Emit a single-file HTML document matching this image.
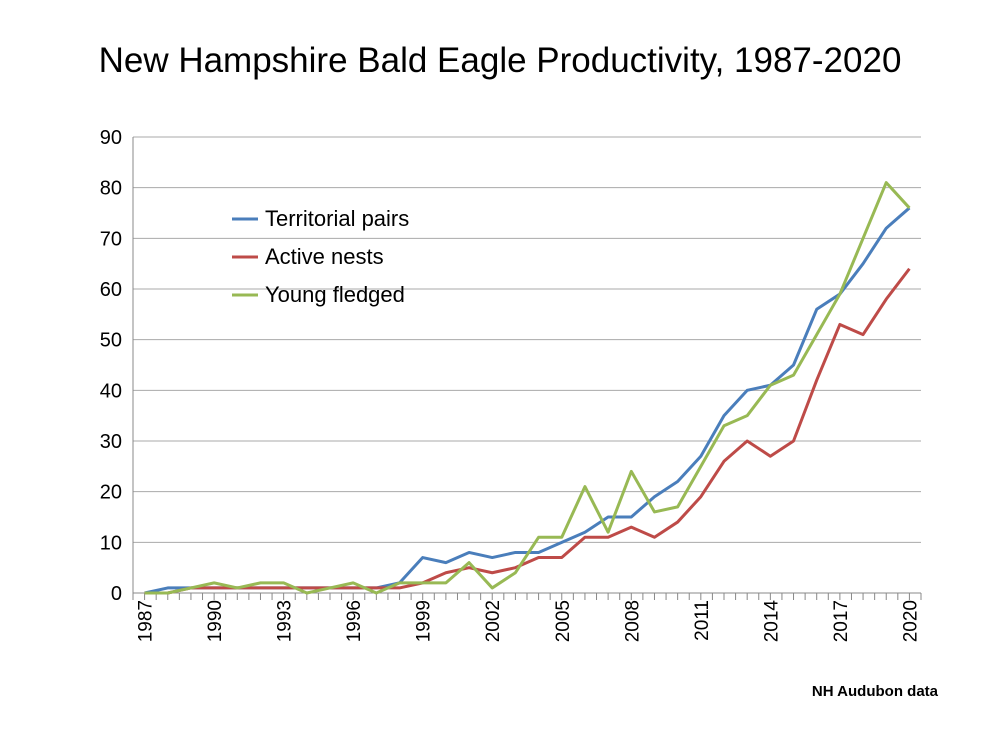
<!DOCTYPE html>
<html><head><meta charset="utf-8"><style>
body{margin:0;background:#fff;}
svg{display:block;font-family:"Liberation Sans",sans-serif;}
</style></head><body>
<svg id="chart" width="1000" height="750">
<text x="500" y="72" text-anchor="middle" font-size="35" fill="#000">New Hampshire Bald Eagle Productivity, 1987-2020</text>
<g id="grid"></g><g id="axes"></g><g id="series"></g>
<g>
<line x1="232" y1="219" x2="258" y2="219" stroke="#4a7ebb" stroke-width="3"/>
<text x="265" y="226" font-size="22">Territorial pairs</text>
<line x1="232" y1="257" x2="258" y2="257" stroke="#be4b48" stroke-width="3"/>
<text x="265" y="264" font-size="22">Active nests</text>
<line x1="232" y1="295" x2="258" y2="295" stroke="#98b954" stroke-width="3"/>
<text x="265" y="302" font-size="22">Young fledged</text>
</g>
<text x="938" y="696" text-anchor="end" font-size="15" font-weight="bold">NH Audubon data</text>
</svg>
<script>
const years=[];for(let y=1987;y<=2020;y++)years.push(y);
const territorial=[0,1,1,1,1,1,1,1,1,1,1,2,7,6,8,7,8,8,10,12,15,15,19,22,27,35,40,41,45,56,59,65,72,76];
const active=[0,0,1,1,1,1,1,1,1,1,1,1,2,4,5,4,5,7,7,11,11,13,11,14,19,26,30,27,30,42,53,51,58,64];
const young=[0,0,1,2,1,2,2,0,1,2,0,2,2,2,6,1,4,11,11,21,12,24,16,17,25,33,35,41,43,51,59,70,81,76];
const yTicks=[0,10,20,30,40,50,60,70,80,90];
const L=133,R=921,T=137,B=593,NS="http://www.w3.org/2000/svg";
const x=i=>L+(i+0.5)*(R-L)/years.length;
const y=v=>B-v*(B-T)/90;
function mk(tag,attrs,parent){const e=document.createElementNS(NS,tag);for(const k in attrs)e.setAttribute(k,attrs[k]);parent.appendChild(e);return e;}
const grid=document.getElementById('grid'),axes=document.getElementById('axes'),ser=document.getElementById('series');
yTicks.forEach(v=>{
 const g=mk('line',{x1:L,x2:R,y1:y(v),y2:y(v),stroke:v===0?'#888':'#aaa','stroke-width':1},grid);
 
 
 const t=mk('text',{x:122,y:y(v)+7,'text-anchor':'end','font-size':20},axes);
 t.textContent=v;
 
 
});
const ax=mk('line',{x1:L,x2:L,y1:T,y2:B,stroke:'#888'},axes);


for(let i=0;i<=years.length*2;i++){
 const xx=L+i*(R-L)/(years.length*2);
 const tk=mk('line',{x1:xx,x2:xx,y1:B,y2:B+7,stroke:'#888'},axes);
 
 
}
years.forEach((yr,i)=>{
 if((yr-1987)%3!==0)return;
 const t=mk('text',{x:0,y:0,'text-anchor':'end','font-size':19,transform:`translate(${x(i)+7},${B+7}) rotate(-90)`},axes);
 t.textContent=yr;
 
 
});
[[territorial,'#4a7ebb','territorial-pairs-line'],[active,'#be4b48','active-nests-line'],[young,'#98b954','young-fledged-line']].forEach(([d,c,n])=>{
 const p=mk('polyline',{points:d.map((v,i)=>x(i)+','+y(v)).join(' '),fill:'none',stroke:c,'stroke-width':3,'stroke-linejoin':'round'},ser);
 
 
});
</script>
</body></html>
